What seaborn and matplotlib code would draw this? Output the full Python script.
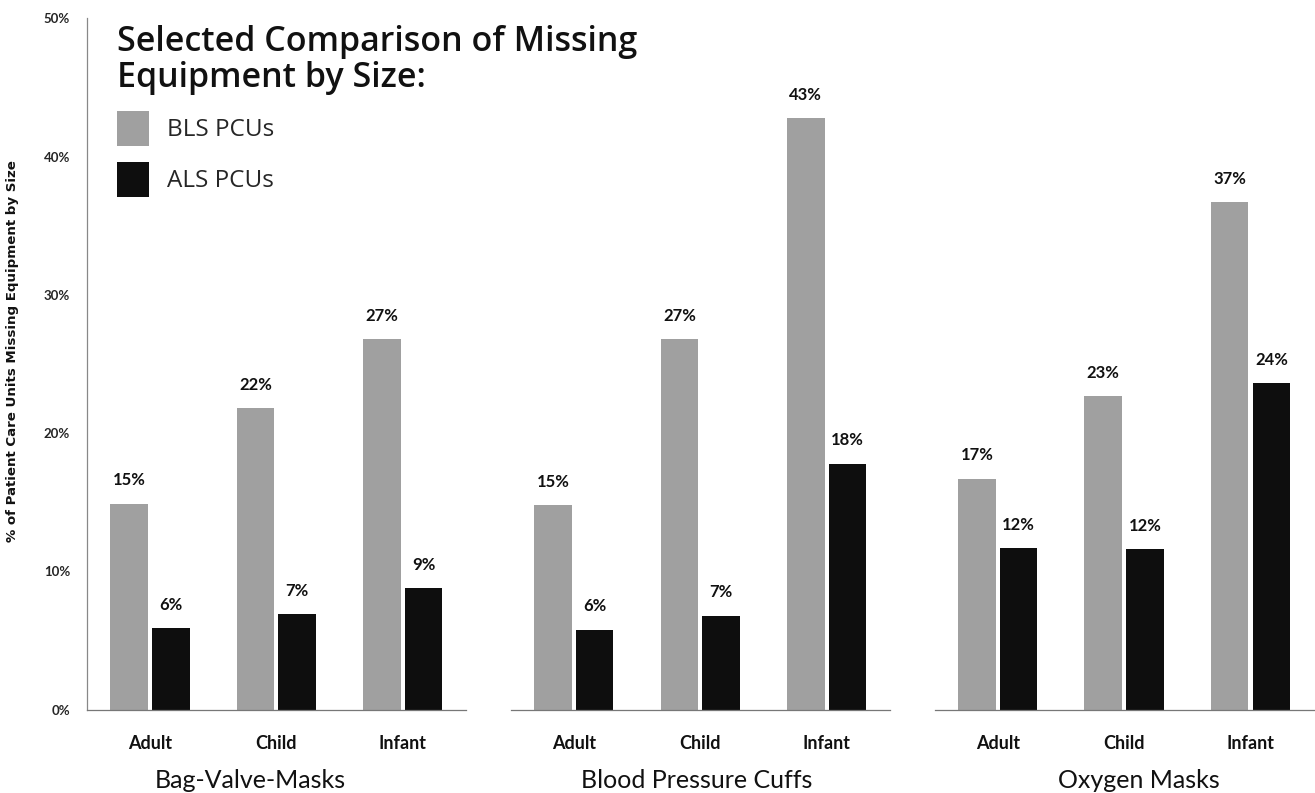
import numpy as np
import pandas as pd
import matplotlib.pyplot as plt
import matplotlib.ticker as mtick
from matplotlib.patches import Patch
import seaborn as sns

groups = ['Bag-Valve-Masks', 'Blood Pressure Cuffs', 'Oxygen Masks']
sizes = ['Adult', 'Child', 'Infant']
units = ['BLS PCUs', 'ALS PCUs']

bls_values = [[14.9, 21.8, 26.8], [14.8, 26.8, 42.8], [16.7, 22.7, 36.7]]
als_values = [[5.9, 6.9, 8.8], [5.8, 6.8, 17.8], [11.7, 11.6, 23.6]]

colors = ['#a0a0a0', '#0e0e0e']
group_label_x = [0.432, 0.49, 0.54]

sns.set_style('white')
plt.rcParams['font.family'] = ['Lato', 'DejaVu Sans']

rows = []
for g, group in enumerate(groups):
    for s, size in enumerate(sizes):
        rows.append((group, size, units[0], bls_values[g][s]))
        rows.append((group, size, units[1], als_values[g][s]))
df = pd.DataFrame(rows, columns=['group', 'size', 'unit', 'pct'])

fig, axes = plt.subplots(1, 3, figsize=(13.15, 7.93), dpi=100, sharey=True)
fig.subplots_adjust(left=0.066, right=0.999, top=0.977, bottom=0.105, wspace=0.118)

for i, (ax, group) in enumerate(zip(axes, groups)):
    sub = df[df.group == group]
    sns.barplot(data=sub, x='size', y='pct', hue='unit', hue_order=units, order=sizes,
                palette=colors, width=0.66, gap=0.1, legend=False, ax=ax,
                saturation=1, edgecolor='none')
    for c in ax.containers:
        ax.bar_label(c, fmt='{:.0f}%', padding=11, fontsize=12, fontweight='bold', color='#111111')

    ax.set_xlim(-0.5, 2.5)
    ax.set_ylim(0, 50)
    ax.set_xlabel(group, fontsize=18, color='#111111', va='top')
    ax.xaxis.set_label_coords(group_label_x[i], -0.085)
    ax.set_ylabel('')
    ax.set_xticks([0, 1, 2])
    ax.set_xticklabels(sizes, fontsize=13, fontweight='bold', color='#111111')
    ax.set_xticks([-0.5, 0.5, 1.5], minor=True)
    ax.tick_params(axis='x', which='major', length=0, pad=18)
    ax.tick_params(axis='x', which='minor', length=5, width=0.8, color='#777777', direction='out')

    for side in ['top', 'right']:
        ax.spines[side].set_visible(False)
    ax.spines['bottom'].set_color('#777777')
    ax.spines['bottom'].set_linewidth(0.9)
    if i == 0:
        ax.spines['left'].set_color('#888888')
        ax.spines['left'].set_linewidth(0.9)
    else:
        ax.spines['left'].set_visible(False)
        ax.tick_params(axis='y', left=False)

axes[0].yaxis.set_major_locator(mtick.MultipleLocator(10))
axes[0].yaxis.set_major_formatter(mtick.PercentFormatter(decimals=0))
axes[0].tick_params(axis='y', length=4, width=0.8, color='#888888', labelsize=9.5, pad=8)
for lab in axes[0].get_yticklabels():
    lab.set_fontweight('bold')
axes[0].set_ylabel('% of Patient Care Units Missing Equipment by Size', fontsize=9.6,
                   fontweight='bold', family=['DejaVu Sans'], color='#111111')
axes[0].yaxis.set_label_coords(-0.178, 0.519)

fig.text(117 / 1315, 0.968, 'Selected Comparison of Missing\nEquipment by Size:', ha='left', va='top',
         fontsize=24.5, fontweight=600, family=['Open Sans', 'DejaVu Sans'],
         linespacing=1.05, color='#111111')

handles = [Patch(facecolor=c, edgecolor='none') for c in colors]
fig.legend(handles, units, loc='upper left', bbox_to_anchor=(117 / 1315, 1 - 111 / 793),
           frameon=False, prop={'family': ['Open Sans', 'DejaVu Sans'], 'size': 17.5},
           handlelength=1.3, handleheight=1.85,
           labelspacing=0.65, handletextpad=0.75, borderpad=0, borderaxespad=0)

plt.savefig('out.png', dpi=100)
